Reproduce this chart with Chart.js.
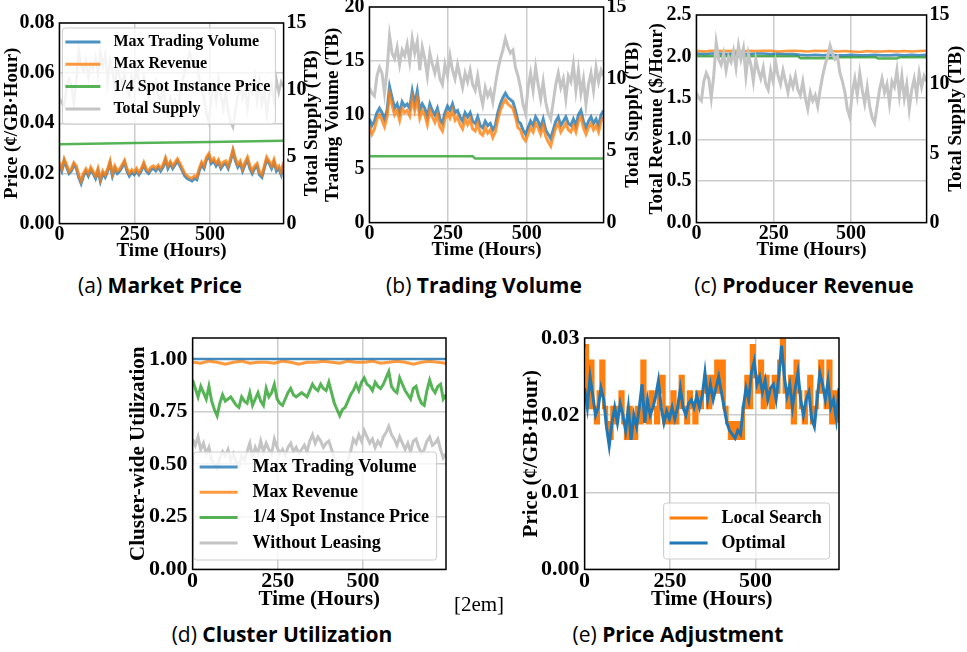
<!DOCTYPE html>
<html lang="en">
<head>
<meta charset="UTF-8">
<title>Market simulation over time</title>
<script src="https://cdn.jsdelivr.net/npm/chart.js"></script>
<style>
    body { margin: 0; width: 967px; height: 652px; background: #fff; position: relative; overflow: hidden; }
    canvas { position: absolute; }
    .cap { position: absolute; transform: translate(-50%, -50%); white-space: nowrap;
           font-family: "Open Sans", "Noto Sans", sans-serif; font-size: 21px; color: #000; }
    .cap b { font-weight: 700; }
    .note { position: absolute; transform: translate(-50%, -50%); font-family: "Liberation Serif", serif; font-size: 21px; }
</style>
</head>
<body>

<canvas id="chartA"></canvas>
<canvas id="chartB"></canvas>
<canvas id="chartC"></canvas>
<canvas id="chartD"></canvas>
<canvas id="chartE"></canvas>

<div class="cap" style="left:160px; top:285px;">(a) <b>Market Price</b></div>
<div class="cap" style="left:484px; top:285px;">(b) <b>Trading Volume</b></div>
<div class="cap" style="left:804px; top:285px;">(c) <b>Producer Revenue</b></div>
<div class="cap" style="left:282px; top:634px;">(d) <b>Cluster Utilization</b></div>
<div class="cap" style="left:678px; top:634px;">(e) <b>Price Adjustment</b></div>
<div class="note" style="left:479px; top:604px;">[2em]</div>

<script>
// time axis (hours)
const hours = [
    0, 8, 16, 24, 32, 40, 48, 56, 64, 72,
    80, 88, 96, 104, 112, 120, 128, 136, 144, 152,
    160, 168, 176, 184, 192, 200, 208, 216, 224, 232,
    240, 248, 256, 264, 272, 280, 288, 296, 304, 312,
    320, 328, 336, 344, 352, 360, 368, 376, 384, 392,
    400, 408, 416, 424, 432, 440, 448, 456, 464, 472,
    480, 488, 496, 504, 512, 520, 528, 536, 544, 552,
    560, 568, 576, 584, 592, 600, 608, 616, 624, 632,
    640, 648, 656, 664, 672, 680, 688, 696, 704, 712,
    720, 728, 736, 744
];
const hours24 = [
    0, 24, 48, 72, 96, 120, 144, 168, 192, 216,
    240, 264, 288, 312, 336, 360, 384, 408, 432, 456,
    480, 504, 528, 552, 576, 600, 624, 648, 672, 696,
    720, 744
];

// total supply (TB), shared by (a) (b) (c)
const totalSupply = [
    9.4, 9.0, 8.8, 10.2, 10.8, 10.4, 9.0, 10.6, 13.0, 11.8,
    11.4, 12.2, 11.0, 12.0, 11.6, 12.4, 11.2, 12.8, 11.8, 12.6,
    10.6, 12.2, 11.4, 10.2, 11.8, 11.0, 10.4, 11.2, 10.0, 9.6,
    11.0, 10.2, 11.6, 10.6, 10.0, 11.0, 10.2, 9.4, 10.4, 9.8,
    10.6, 9.6, 9.2, 10.2, 9.0, 8.2, 9.4, 8.8, 9.2, 8.4,
    9.6, 10.6, 11.4, 12.0, 12.8, 12.2, 11.8, 12.0, 10.8, 10.2,
    9.4, 8.2, 7.6, 9.4, 10.4, 9.2, 10.8, 9.6, 8.6, 9.8,
    8.4, 7.6, 7.2, 8.4, 9.6, 10.4, 9.4, 10.0, 8.6, 10.2,
    9.8, 11.0, 9.2, 10.6, 9.0, 10.0, 8.2, 9.6, 10.4, 9.2,
    10.8, 9.8, 10.6, 10.2
];

// (a) price, cents per GB-hour
const priceMaxVolume = [
    0.0235, 0.021, 0.025, 0.0225, 0.020, 0.021, 0.0235, 0.022, 0.0185, 0.016,
    0.019, 0.021, 0.019, 0.0215, 0.020, 0.018, 0.021, 0.0168, 0.020, 0.0185,
    0.021, 0.024, 0.019, 0.022, 0.020, 0.021, 0.0225, 0.0245, 0.021, 0.019,
    0.0205, 0.0195, 0.021, 0.0195, 0.021, 0.0235, 0.021, 0.020, 0.0215, 0.022,
    0.021, 0.0225, 0.021, 0.0225, 0.0255, 0.022, 0.024, 0.022, 0.0235, 0.025,
    0.023, 0.021, 0.019, 0.018, 0.0175, 0.017, 0.018, 0.0175, 0.021, 0.0235,
    0.022, 0.0255, 0.027, 0.024, 0.025, 0.023, 0.0245, 0.022, 0.0235, 0.024,
    0.022, 0.025, 0.029, 0.025, 0.0225, 0.024, 0.021, 0.0235, 0.0255, 0.022,
    0.020, 0.022, 0.023, 0.0195, 0.0185, 0.022, 0.0255, 0.024, 0.022, 0.0245,
    0.021, 0.022, 0.0195, 0.0235
];
const priceMaxRevenue = [
    0.0244, 0.0220, 0.0258, 0.0235, 0.0208, 0.0220, 0.0243, 0.0230, 0.0195, 0.0170,
    0.0200, 0.0218, 0.0200, 0.0225, 0.0208, 0.0190, 0.0220, 0.0178, 0.0210, 0.0195,
    0.0218, 0.0250, 0.0200, 0.0230, 0.0210, 0.0218, 0.0235, 0.0252, 0.0220, 0.0200,
    0.0215, 0.0205, 0.0220, 0.0203, 0.0220, 0.0244, 0.0218, 0.0210, 0.0225, 0.0230,
    0.0220, 0.0233, 0.0220, 0.0235, 0.0262, 0.0230, 0.0248, 0.0230, 0.0245, 0.0258,
    0.0240, 0.0220, 0.0200, 0.0190, 0.0183, 0.0180, 0.0190, 0.0185, 0.0220, 0.0245,
    0.0230, 0.0265, 0.0280, 0.0250, 0.0260, 0.0240, 0.0255, 0.0230, 0.0245, 0.0250,
    0.0230, 0.0260, 0.0295, 0.0260, 0.0235, 0.0250, 0.0220, 0.0245, 0.0265, 0.0230,
    0.0210, 0.0230, 0.0240, 0.0205, 0.0195, 0.0230, 0.0265, 0.0250, 0.0230, 0.0255,
    0.0220, 0.0230, 0.0205, 0.0245
];
const spotPriceHours = [0, 250, 500, 744];
const spotPrice = [0.0316, 0.0321, 0.0325, 0.0330];

// (b) trading volume, TB
const volumeMaxVolume = [
    9.6, 9.0, 9.4, 10.2, 10.6, 10.2, 9.6, 10.4, 12.6, 11.6,
    10.6, 11.0, 10.2, 11.2, 10.8, 11.0, 10.6, 12.2, 11.0, 12.2,
    10.4, 11.0, 10.6, 9.8, 11.0, 10.4, 10.0, 10.6, 9.6, 9.2,
    10.2, 10.8, 10.4, 11.0, 10.2, 10.4, 9.8, 9.4, 10.2, 9.8,
    10.2, 9.4, 9.2, 9.8, 9.0, 8.8, 9.4, 9.0, 9.2, 8.6,
    9.0, 10.2, 11.0, 11.6, 12.0, 11.6, 11.4, 11.2, 10.4, 9.4,
    9.2, 8.6, 8.2, 8.8, 9.4, 9.0, 9.8, 9.4, 8.8, 9.6,
    8.6, 8.2, 7.8, 8.6, 9.4, 9.8, 9.0, 9.4, 9.8, 9.2,
    9.0, 9.6, 9.0, 10.0, 10.4, 9.4, 8.8, 9.4, 9.8, 9.2,
    9.6, 9.0, 10.0, 10.4
];
const volumeMaxRevenue = [
    8.9, 8.2, 8.7, 9.6, 10.0, 9.5, 8.9, 9.8, 11.9, 10.9,
    10.0, 10.4, 9.5, 10.6, 10.2, 10.4, 9.9, 11.5, 10.4, 11.5,
    9.7, 10.4, 10.0, 9.1, 10.4, 9.8, 9.3, 10.0, 8.9, 8.5,
    9.6, 10.2, 9.7, 10.4, 9.5, 9.8, 9.1, 8.7, 9.6, 9.1,
    9.6, 8.7, 8.5, 9.2, 8.3, 8.1, 8.8, 8.3, 8.6, 7.9,
    8.4, 9.6, 10.4, 11.0, 11.4, 11.0, 10.8, 10.6, 9.8, 8.8,
    8.6, 7.9, 7.6, 8.2, 8.8, 8.4, 9.2, 8.8, 8.2, 9.0,
    8.0, 7.5, 7.1, 8.0, 8.8, 9.2, 8.4, 8.8, 9.2, 8.6,
    8.4, 9.0, 8.4, 9.4, 9.8, 8.8, 8.2, 8.8, 9.2, 8.6,
    9.0, 8.4, 9.4, 9.8
];
const spotVolumeHours = [0, 328, 336, 744];
const spotVolume = [6.15, 6.15, 5.95, 5.95];

// (c) producer revenue, $ per hour
const revenueMaxRevenue = [
    2.07, 2.06, 2.07, 2.07, 2.065, 2.07, 2.06, 2.07, 2.065, 2.07,
    2.07, 2.06, 2.065, 2.07, 2.065, 2.06, 2.07, 2.065, 2.07, 2.06,
    2.065, 2.06, 2.055, 2.065, 2.06, 2.06, 2.065, 2.06, 2.065, 2.06,
    2.065, 2.07
];
const revenueMaxVolume = [
    2.035, 2.03, 2.035, 2.035, 2.03, 2.035, 2.035, 2.03, 2.035, 2.035,
    2.03, 2.035, 2.03, 2.03, 2.02, 2.015, 2.02, 2.015, 2.02, 2.015,
    2.015, 2.02, 2.015, 2.015, 2.02, 2.015, 2.015, 2.02, 2.015, 2.02,
    2.015, 2.02
];
const spotRevenueHours = [0, 328, 336, 452, 460, 580, 588, 648, 656, 744];
const spotRevenue = [2.005, 2.005, 1.98, 1.98, 1.99, 1.99, 1.975, 1.975, 1.99, 1.99];

// (d) cluster-wide utilization
const utilMaxVolumeHours = [0, 744];
const utilMaxVolume = [1.0, 1.0];
const utilMaxRevenue = [
    0.985, 0.98, 0.99, 0.985, 0.975, 0.985, 0.99, 0.98, 0.985, 0.985,
    0.98, 0.99, 0.985, 0.975, 0.985, 0.985, 0.99, 0.985, 0.98, 0.99,
    0.985, 0.985, 0.99, 0.98, 0.985, 0.99, 0.985, 0.975, 0.985, 0.99,
    0.985, 0.98
];
const utilSpot = [
    0.90, 0.86, 0.82, 0.87, 0.84, 0.81, 0.87, 0.80, 0.76, 0.73,
    0.79, 0.83, 0.80, 0.81, 0.82, 0.80, 0.78, 0.77, 0.82, 0.80,
    0.79, 0.84, 0.78, 0.81, 0.84, 0.80, 0.78, 0.86, 0.82, 0.84,
    0.88, 0.81, 0.79, 0.78, 0.81, 0.84, 0.86, 0.83, 0.82, 0.83,
    0.84, 0.83, 0.82, 0.85, 0.88, 0.86, 0.85, 0.88, 0.86, 0.85,
    0.89, 0.84, 0.79, 0.76, 0.73, 0.76, 0.77, 0.80, 0.83, 0.85,
    0.88, 0.85, 0.89, 0.91, 0.88, 0.87, 0.85, 0.89, 0.87, 0.86,
    0.88, 0.91, 0.94, 0.87, 0.85, 0.84, 0.91, 0.88, 0.85, 0.83,
    0.81, 0.86, 0.87, 0.82, 0.79, 0.78, 0.85, 0.90, 0.86, 0.84,
    0.87, 0.88, 0.81, 0.83
];
const utilNoLeasing = [
    0.62, 0.59, 0.63, 0.57, 0.60, 0.55, 0.58, 0.52, 0.50, 0.48,
    0.53, 0.56, 0.54, 0.57, 0.52, 0.55, 0.51, 0.49, 0.54, 0.52,
    0.56, 0.60, 0.53, 0.58, 0.55, 0.61, 0.56, 0.60, 0.57, 0.55,
    0.62, 0.58, 0.55, 0.57, 0.54, 0.58, 0.60, 0.56, 0.58, 0.55,
    0.57, 0.59, 0.56, 0.61, 0.64, 0.60, 0.63, 0.61, 0.58, 0.60,
    0.61, 0.57, 0.53, 0.50, 0.48, 0.51, 0.49, 0.52, 0.56, 0.62,
    0.60, 0.64, 0.61, 0.66, 0.63, 0.60, 0.62, 0.58, 0.61, 0.59,
    0.63, 0.65, 0.68, 0.64, 0.62, 0.59, 0.63, 0.60, 0.57, 0.60,
    0.56, 0.61, 0.62, 0.58, 0.55, 0.57, 0.61, 0.63, 0.59, 0.60,
    0.62, 0.57, 0.53, 0.55
];

// (e) price adjustment: local search vs optimal (optimal = priceMaxVolume)
const priceLocalSearch = [
    0.029, 0.021, 0.027, 0.021, 0.019, 0.023, 0.027, 0.021, 0.019, 0.017,
    0.021, 0.019, 0.021, 0.023, 0.019, 0.017, 0.021, 0.019, 0.017, 0.021,
    0.019, 0.027, 0.021, 0.019, 0.023, 0.021, 0.019, 0.023, 0.025, 0.019,
    0.021, 0.019, 0.023, 0.019, 0.021, 0.025, 0.021, 0.019, 0.023, 0.021,
    0.019, 0.023, 0.021, 0.023, 0.025, 0.021, 0.025, 0.023, 0.027, 0.023,
    0.027, 0.021, 0.019, 0.017, 0.019, 0.017, 0.019, 0.017, 0.021, 0.025,
    0.021, 0.029, 0.025, 0.023, 0.027, 0.021, 0.025, 0.023, 0.021, 0.025,
    0.023, 0.027, 0.030, 0.023, 0.021, 0.025, 0.019, 0.027, 0.023, 0.021,
    0.019, 0.023, 0.025, 0.019, 0.021, 0.023, 0.027, 0.023, 0.021, 0.027,
    0.019, 0.023, 0.021, 0.019
];

// tick labels
const xTicks = [0, 250, 500];
const priceTicks = [0, 0.02, 0.04, 0.06, 0.08];
const supplyTicks = [0, 5, 10, 15];
const volumeTicks = [0, 5, 10, 15, 20];
const revenueTicks = [0, 0.5, 1.0, 1.5, 2.0, 2.5];
const utilTicks = [0, 0.25, 0.5, 0.75, 1.0];
const adjustTicks = [0, 0.01, 0.02, 0.03];

const BLUE = 'rgba(31,119,180,0.8)', ORANGE = 'rgba(255,127,14,0.8)', GREEN = 'rgba(44,160,44,0.8)', GRAY = '#c4c4c4';
const SERIF = '"Liberation Serif", "Times New Roman", serif';

Chart.defaults.font.family = SERIF;
Chart.defaults.font.weight = 'bold';
Chart.defaults.color = '#000';

function pairs(xs, ys) {
    return xs.map((x, i) => ({ x: x, y: ys[i] }));
}

function line(label, xs, ys, color, order, extra) {
    return Object.assign({
        label: label, data: pairs(xs, ys), borderColor: color, backgroundColor: color,
        borderWidth: 2.5, pointRadius: 0, tension: 0, order: order, yAxisID: 'y'
    }, extra || {});
}

const framePlugin = {
    id: 'frame',
    afterDraw(chart) {
        const { ctx, chartArea: a } = chart;
        ctx.save();
        ctx.strokeStyle = '#000';
        ctx.lineWidth = 1.5;
        ctx.strokeRect(a.left, a.top, a.right - a.left, a.bottom - a.top);
        ctx.restore();
    }
};

// right-hand axis title, read bottom-to-top like the left one
const rightTitlePlugin = {
    id: 'rightTitle',
    afterDraw(chart, args, o) {
        if (!o.text) return;
        const { ctx, chartArea: a } = chart;
        const s = chart.scales.y2;
        ctx.save();
        ctx.translate(s.right - o.size * 0.6, (a.top + a.bottom) / 2);
        ctx.rotate(-Math.PI / 2);
        ctx.font = 'bold ' + o.size + 'px ' + SERIF;
        ctx.fillStyle = '#000';
        ctx.textAlign = 'center';
        ctx.textBaseline = 'middle';
        ctx.fillText(o.text, 0, 0);
        ctx.restore();
    }
};

// legend drawn inside the plot, like matplotlib's
const boxLegendPlugin = {
    id: 'boxLegend',
    afterDatasetsDraw(chart, args, o) {
        if (!o.items) return;
        const { ctx, chartArea: a } = chart;
        const x = a.left + o.x, y = a.top + o.y;
        ctx.save();
        ctx.beginPath();
        if (ctx.roundRect) ctx.roundRect(x, y, o.w, o.h, 3); else ctx.rect(x, y, o.w, o.h);
        ctx.fillStyle = 'rgba(255,255,255,0.8)';
        ctx.fill();
        ctx.strokeStyle = '#cccccc';
        ctx.lineWidth = 1;
        ctx.stroke();
        ctx.font = 'bold ' + o.size + 'px ' + SERIF;
        ctx.textBaseline = 'middle';
        o.items.forEach((di, i) => {
            const ds = chart.data.datasets[di];
            const cy = y + o.first + i * o.gap;
            ctx.strokeStyle = ds.borderColor;
            ctx.lineWidth = 3;
            ctx.beginPath();
            ctx.moveTo(x + o.lx0, cy);
            ctx.lineTo(x + o.lx1, cy);
            ctx.stroke();
            ctx.fillStyle = '#000';
            ctx.fillText(ds.label, x + o.tx, cy);
        });
        ctx.restore();
    }
};

function fixedTicks(list) {
    return s => { s.ticks = list.map(v => ({ value: v })); };
}

// p: plot box (L,T,R,B), title centres (lx, rx, ty), fonts, axes
function makeChart(id, p) {
    const canvas = document.getElementById(id);
    const lh = p.titleSize * 1.2;
    const padTop = 18;
    const leftW = p.L - (p.lx - lh / 2);
    const rightW = p.right ? (p.rx + lh / 2 - p.R) : 12;
    const bottomH = p.ty + lh / 2 - p.B;
    const left = p.L - leftW, top = p.T - padTop;
    canvas.width = Math.round(leftW + (p.R - p.L) + rightW);
    canvas.height = Math.round(padTop + (p.B - p.T) + bottomH);
    canvas.style.left = left + 'px';
    canvas.style.top = top + 'px';

    const grid = { color: '#cccccc', lineWidth: 1.5, drawTicks: false };
    const tickFont = { size: p.tickSize, lineHeight: 1 };
    const scales = {
        x: {
            type: 'linear', min: 0, max: 744,
            afterBuildTicks: fixedTicks(xTicks),
            afterFit: s => { s.height = bottomH; },
            ticks: { font: tickFont, padding: 1, maxRotation: 0, callback: v => String(v) },
            grid: grid, border: { display: false },
            title: { display: true, text: 'Time (Hours)', font: { size: p.titleSize, lineHeight: 1.2 }, padding: 0 }
        },
        y: {
            position: 'left', min: p.left.min, max: p.left.max,
            afterBuildTicks: fixedTicks(p.left.ticks),
            afterFit: s => { s.width = leftW; },
            ticks: { font: tickFont, padding: 5, callback: v => v.toFixed(p.left.dec) },
            grid: grid, border: { display: false },
            title: { display: true, text: p.left.title, font: { size: p.titleSize, lineHeight: 1.2 }, padding: 0 }
        }
    };
    if (p.right) {
        scales.y2 = {
            position: 'right', min: p.right.min, max: p.right.max,
            afterBuildTicks: fixedTicks(p.right.ticks),
            afterFit: s => { s.width = rightW; },
            ticks: { font: tickFont, padding: 3, callback: v => String(v) },
            grid: { display: false, drawTicks: false }, border: { display: false }
        };
    }
    return new Chart(canvas, {
        type: 'line',
        data: { datasets: p.datasets },
        options: {
            responsive: false, animation: false, events: [],
            layout: { padding: { top: padTop, left: 0, right: p.right ? 0 : rightW, bottom: 0 } },
            scales: scales,
            plugins: {
                legend: { display: false }, tooltip: { enabled: false },
                rightTitle: { text: p.right ? p.right.title : '', size: p.titleSize },
                boxLegend: p.legend || {}
            }
        },
        plugins: [boxLegendPlugin, framePlugin, rightTitlePlugin]
    });
}

const supplyAxis = { min: 0, max: 15, ticks: supplyTicks, title: 'Total Supply (TB)' };

makeChart('chartA', {
    L: 59, T: 23, R: 283, B: 224, lx: 12, rx: 311, ty: 251, titleSize: 19, tickSize: 20,
    left: { min: 0, max: 0.08, ticks: priceTicks, dec: 2, title: 'Price (¢/GB·Hour)' },
    right: supplyAxis,
    datasets: [
        line('Max Trading Volume', hours, priceMaxVolume, BLUE, 2, { borderWidth: 3 }),
        line('Max Revenue', hours, priceMaxRevenue, ORANGE, 1, { borderWidth: 3 }),
        line('1/4 Spot Instance Price', spotPriceHours, spotPrice, GREEN, 3),
        line('Total Supply', hours, totalSupply, GRAY, 4, { yAxisID: 'y2' })
    ],
    legend: { items: [0, 1, 2, 3], x: 3, y: 5, w: 213, h: 96, first: 14, gap: 22.3, lx0: 3, lx1: 38, tx: 51, size: 16 }
});

makeChart('chartB', {
    L: 369, T: 7, R: 603, B: 223, lx: 333, rx: 632, ty: 250, titleSize: 19, tickSize: 20,
    left: { min: 0, max: 20, ticks: volumeTicks, dec: 0, title: 'Trading Volume (TB)' },
    right: supplyAxis,
    datasets: [
        line('Max Trading Volume', hours, volumeMaxVolume, BLUE, 2, { borderWidth: 3 }),
        line('Max Revenue', hours, volumeMaxRevenue, ORANGE, 1, { borderWidth: 3 }),
        line('1/4 Spot Instance Price', spotVolumeHours, spotVolume, GREEN, 3),
        line('Total Supply', hours, totalSupply, GRAY, 0, { yAxisID: 'y2', borderWidth: 3 })
    ]
});

makeChart('chartC', {
    L: 696, T: 15, R: 926, B: 223, lx: 657, rx: 955, ty: 250, titleSize: 19, tickSize: 20,
    left: { min: 0, max: 2.5, ticks: revenueTicks, dec: 1, title: 'Total Revenue ($/Hour)' },
    right: supplyAxis,
    datasets: [
        line('Max Trading Volume', hours24, revenueMaxVolume, BLUE, 2),
        line('Max Revenue', hours24, revenueMaxRevenue, ORANGE, 1),
        line('1/4 Spot Instance Price', spotRevenueHours, spotRevenue, GREEN, 3),
        line('Total Supply', hours, totalSupply, GRAY, 0, { yAxisID: 'y2', borderWidth: 3 })
    ]
});

makeChart('chartD', {
    L: 193, T: 338, R: 446, B: 569, lx: 139, ty: 599, titleSize: 21, tickSize: 22,
    left: { min: 0, max: 1.1, ticks: utilTicks, dec: 2, title: 'Cluster-wide Utilization' },
    datasets: [
        line('Max Trading Volume', utilMaxVolumeHours, utilMaxVolume, BLUE, 1),
        line('Max Revenue', hours24, utilMaxRevenue, ORANGE, 2, { borderWidth: 3 }),
        line('1/4 Spot Instance Price', hours, utilSpot, GREEN, 3, { borderWidth: 3 }),
        line('Without Leasing', hours, utilNoLeasing, GRAY, 4, { borderWidth: 3 })
    ],
    legend: { items: [0, 1, 2, 3], x: 1, y: 114, w: 243, h: 108, first: 15, gap: 25.3, lx0: 6, lx1: 44, tx: 59, size: 18 }
});

makeChart('chartE', {
    L: 585, T: 338, R: 839, B: 569, lx: 532, ty: 599, titleSize: 21, tickSize: 22,
    left: { min: 0, max: 0.03, ticks: adjustTicks, dec: 2, title: 'Price (¢/GB·Hour)' },
    datasets: [
        line('Local Search', hours, priceLocalSearch, '#ff7f0e', 2, { stepped: true, borderWidth: 3.5 }),
        line('Optimal', hours, priceMaxVolume, '#1f77b4', 1, { borderWidth: 3 })
    ],
    legend: { items: [0, 1], x: 79, y: 165, w: 166, h: 56, first: 15, gap: 25, lx0: 6, lx1: 44, tx: 58, size: 18 }
});
</script>
</body>
</html>
